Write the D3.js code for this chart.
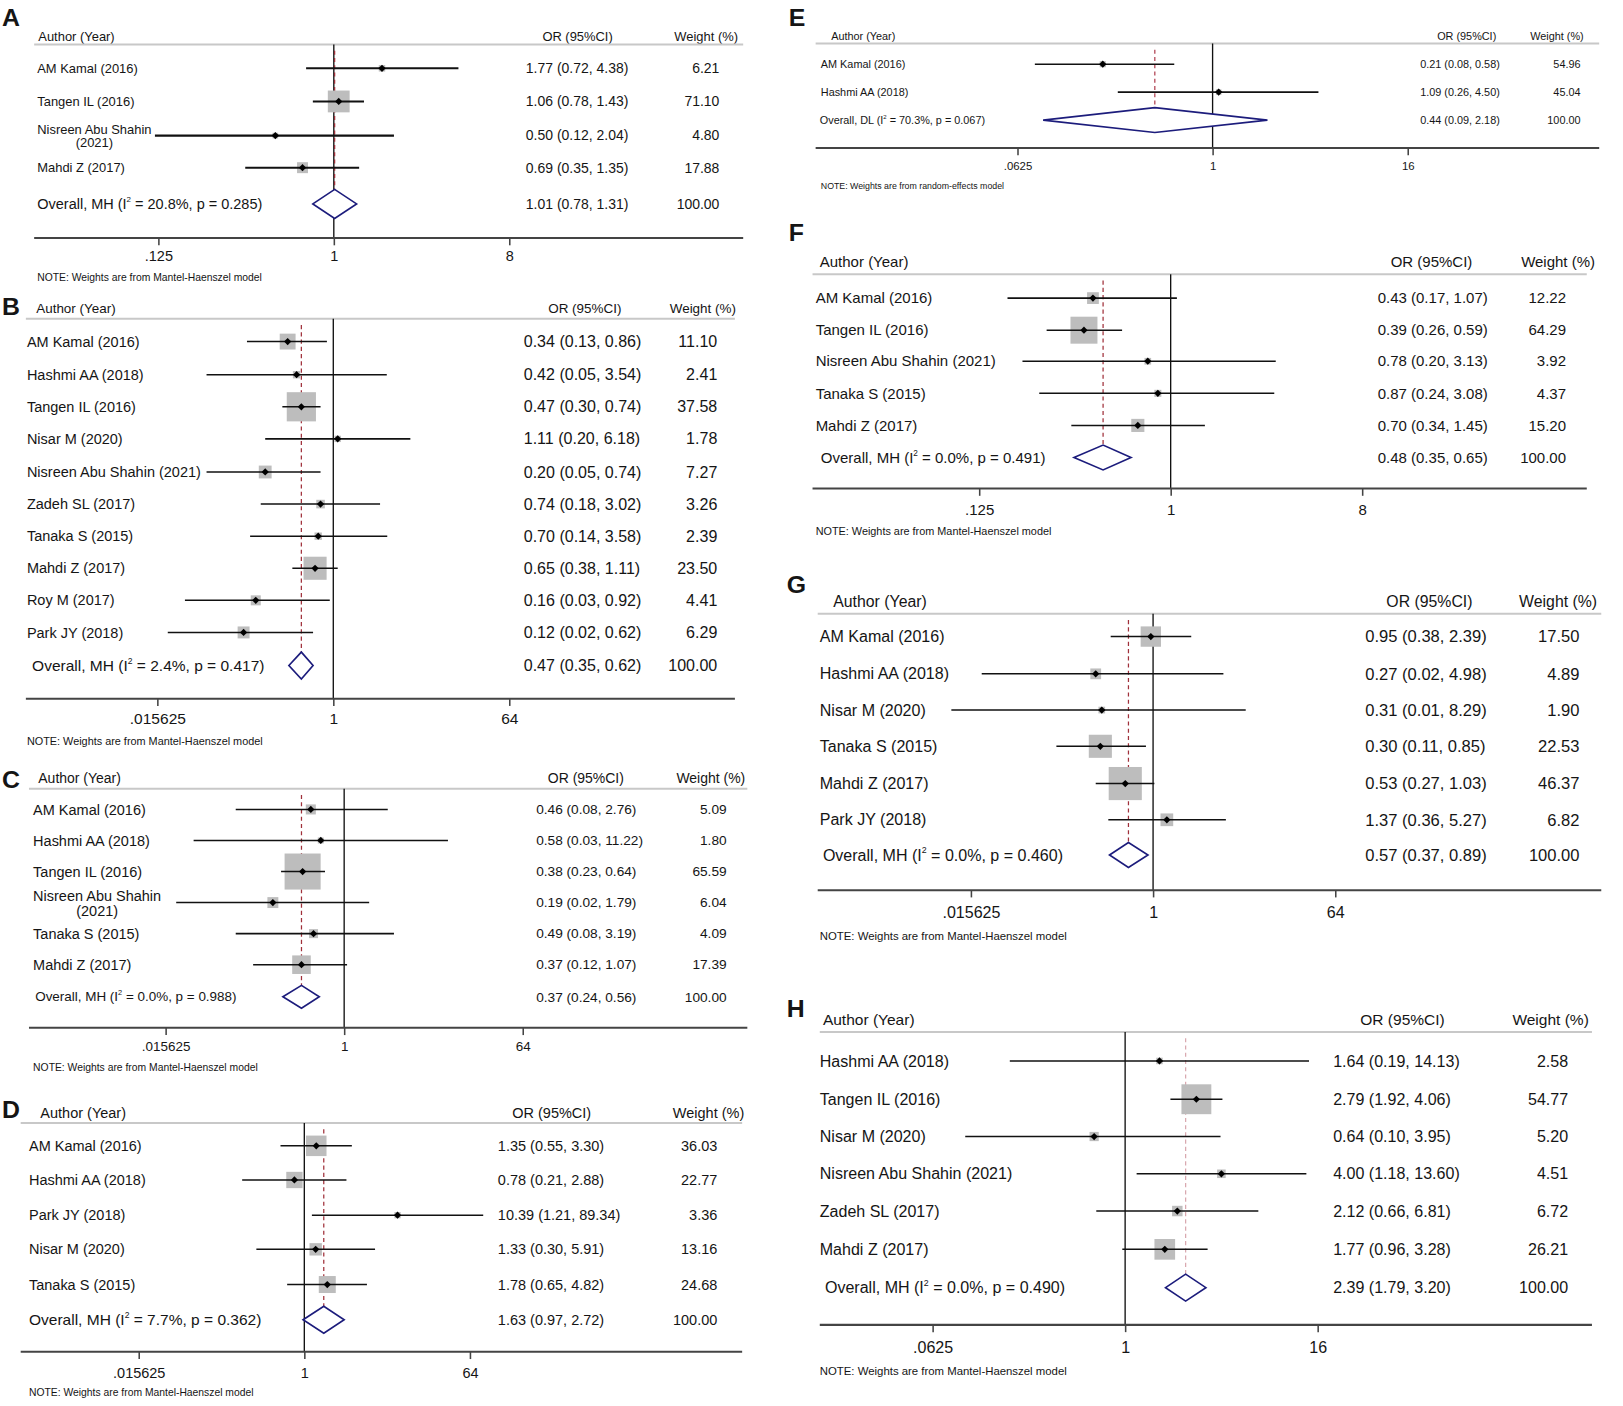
<!DOCTYPE html>
<html><head><meta charset="utf-8">
<script src="https://cdn.jsdelivr.net/npm/d3@7"></script>
<style>body{margin:0;background:#fff}svg{display:block}text{font-family:"Liberation Sans",Arial,sans-serif;fill:#151515}</style>
</head><body>
<script>
// ---------- DATA ----------
const A_studies = ["AM Kamal (2016)","Tangen IL (2016)","Nisreen Abu Shahin\n(2021)","Mahdi Z (2017)"];
const A_or = [1.77,1.06,0.50,0.69];
const A_lo = [0.72,0.78,0.12,0.35];
const A_hi = [4.38,1.43,2.04,1.35];
const A_weight = [6.21,71.10,4.80,17.88];
const A_overall = [1.01,0.78,1.31];
const A_het = ["MH","20.8%","0.285"];
const A_ticks = [0.125,1,8];
const A_tickLabels = [".125","1","8"];

const B_studies = ["AM Kamal (2016)","Hashmi AA (2018)","Tangen IL (2016)","Nisar M (2020)","Nisreen Abu Shahin (2021)","Zadeh SL (2017)","Tanaka S (2015)","Mahdi Z (2017)","Roy M (2017)","Park JY (2018)"];
const B_or = [0.34,0.42,0.47,1.11,0.20,0.74,0.70,0.65,0.16,0.12];
const B_lo = [0.13,0.05,0.30,0.20,0.05,0.18,0.14,0.38,0.03,0.02];
const B_hi = [0.86,3.54,0.74,6.18,0.74,3.02,3.58,1.11,0.92,0.62];
const B_weight = [11.10,2.41,37.58,1.78,7.27,3.26,2.39,23.50,4.41,6.29];
const B_overall = [0.47,0.35,0.62];
const B_het = ["MH","2.4%","0.417"];
const B_ticks = [0.015625,1,64];
const B_tickLabels = [".015625","1","64"];

const C_studies = ["AM Kamal (2016)","Hashmi AA (2018)","Tangen IL (2016)","Nisreen Abu Shahin\n(2021)","Tanaka S (2015)","Mahdi Z (2017)"];
const C_or = [0.46,0.58,0.38,0.19,0.49,0.37];
const C_lo = [0.08,0.03,0.23,0.02,0.08,0.12];
const C_hi = [2.76,11.22,0.64,1.79,3.19,1.07];
const C_weight = [5.09,1.80,65.59,6.04,4.09,17.39];
const C_overall = [0.37,0.24,0.56];
const C_het = ["MH","0.0%","0.988"];
const C_ticks = [0.015625,1,64];
const C_tickLabels = [".015625","1","64"];

const D_studies = ["AM Kamal (2016)","Hashmi AA (2018)","Park JY (2018)","Nisar M (2020)","Tanaka S (2015)"];
const D_or = [1.35,0.78,10.39,1.33,1.78];
const D_lo = [0.55,0.21,1.21,0.30,0.65];
const D_hi = [3.30,2.88,89.34,5.91,4.82];
const D_weight = [36.03,22.77,3.36,13.16,24.68];
const D_overall = [1.63,0.97,2.72];
const D_het = ["MH","7.7%","0.362"];
const D_ticks = [0.015625,1,64];
const D_tickLabels = [".015625","1","64"];

const E_studies = ["AM Kamal (2016)","Hashmi AA (2018)"];
const E_or = [0.21,1.09];
const E_lo = [0.08,0.26];
const E_hi = [0.58,4.50];
const E_weight = [54.96,45.04];
const E_overall = [0.44,0.09,2.18];
const E_het = ["DL","70.3%","0.067"];
const E_ticks = [0.0625,1,16];
const E_tickLabels = [".0625","1","16"];

const F_studies = ["AM Kamal (2016)","Tangen IL (2016)","Nisreen Abu Shahin (2021)","Tanaka S (2015)","Mahdi Z (2017)"];
const F_or = [0.43,0.39,0.78,0.87,0.70];
const F_lo = [0.17,0.26,0.20,0.24,0.34];
const F_hi = [1.07,0.59,3.13,3.08,1.45];
const F_weight = [12.22,64.29,3.92,4.37,15.20];
const F_overall = [0.48,0.35,0.65];
const F_het = ["MH","0.0%","0.491"];
const F_ticks = [0.125,1,8];
const F_tickLabels = [".125","1","8"];

const G_studies = ["AM Kamal (2016)","Hashmi AA (2018)","Nisar M (2020)","Tanaka S (2015)","Mahdi Z (2017)","Park JY (2018)"];
const G_or = [0.95,0.27,0.31,0.30,0.53,1.37];
const G_lo = [0.38,0.02,0.01,0.11,0.27,0.36];
const G_hi = [2.39,4.98,8.29,0.85,1.03,5.27];
const G_weight = [17.50,4.89,1.90,22.53,46.37,6.82];
const G_overall = [0.57,0.37,0.89];
const G_het = ["MH","0.0%","0.460"];
const G_ticks = [0.015625,1,64];
const G_tickLabels = [".015625","1","64"];

const H_studies = ["Hashmi AA (2018)","Tangen IL (2016)","Nisar M (2020)","Nisreen Abu Shahin (2021)","Zadeh SL (2017)","Mahdi Z (2017)"];
const H_or = [1.64,2.79,0.64,4.00,2.12,1.77];
const H_lo = [0.19,1.92,0.10,1.18,0.66,0.96];
const H_hi = [14.13,4.06,3.95,13.60,6.81,3.28];
const H_weight = [2.58,54.77,5.20,4.51,6.72,26.21];
const H_overall = [2.39,1.79,3.20];
const H_het = ["MH","0.0%","0.490"];
const H_ticks = [0.0625,1,16];
const H_tickLabels = [".0625","1","16"];

const NOTE_MH = "NOTE: Weights are from Mantel-Haenszel model";
const NOTE_RE = "NOTE: Weights are from random-effects model";

// ---------- LAYOUT (design units; scaled to page) ----------
const panels = [
 {id:"A", studies:A_studies, or:A_or, lo:A_lo, hi:A_hi, w:A_weight, ov:A_overall, het:A_het, ticks:A_ticks, tl:A_tickLabels, note:NOTE_MH,
  L:{lx:2, ly:25, hx:37, hy:40, hl:43, x0:33, x1:718, nx:36, ox:36, orX:508, orH:558, wR:695, wH:713, rows:[66,98,131,162], oy:197, ay:230, tly:253, ny:271,
     r0:153, r2:492, fs:13.5, nfs:12.5, hfs:12.5, tfs:14, ofs:14, notefs:10, k:2.5, dh:28, lw:2, dash:"#a0303a"}},
 {id:"B", studies:B_studies, or:B_or, lo:B_lo, hi:B_hi, w:B_weight, ov:B_overall, het:B_het, ticks:B_ticks, tl:B_tickLabels, note:NOTE_MH,
  L:{lx:2, ly:304, hx:35, hy:302, hl:308, x0:25, x1:710, nx:26, ox:31, orX:506, orH:565, wR:693, wH:711, rows:[330,362,393,424,456,487,518,549,580,611], oy:643, ay:675, tly:700, ny:720,
     r0:152, r2:492, fs:15.5, nfs:14, hfs:13, tfs:15, ofs:15, notefs:10.5, k:4.6, dh:26, lw:1.5, dash:"#a0303a"}},
 {id:"C", studies:C_studies, or:C_or, lo:C_lo, hi:C_hi, w:C_weight, ov:C_overall, het:C_het, ticks:C_ticks, tl:C_tickLabels, note:NOTE_MH,
  L:{lx:2, ly:761, hx:37, hy:756, hl:762, x0:28, x1:722, nx:32, ox:34, orX:518, orH:566, wR:702, wH:720, rows:[782,812,842,872,902,932], oy:963, ay:993, tly:1016, ny:1035,
     r0:160, r2:505, fs:13.2, nfs:14, hfs:13.5, tfs:13, ofs:13, notefs:10, k:4.3, dh:22, lw:1.5, dash:"#a0303a"}},
 {id:"D", studies:D_studies, or:D_or, lo:D_lo, hi:D_hi, w:D_weight, ov:D_overall, het:D_het, ticks:D_ticks, tl:D_tickLabels, note:NOTE_MH,
  L:{lx:2, ly:1080, hx:39, hy:1080, hl:1085, x0:20, x1:717, nx:28, ox:28, orX:481, orH:533, wR:693, wH:719, rows:[1107,1140,1174,1207,1241], oy:1275, ay:1306, tly:1332, ny:1349,
     r0:134, r2:454, fs:14, nfs:14, hfs:14, tfs:14, ofs:15, notefs:10, k:3.3, dh:26, lw:1.5, dash:"#a0303a"}},
 {id:"E", studies:E_studies, or:E_or, lo:E_lo, hi:E_hi, w:E_weight, ov:E_overall, het:E_het, ticks:E_ticks, tl:E_tickLabels, note:NOTE_RE,
  L:{lx:762, ly:25, hx:803, hy:39, hl:42, x0:788, x1:1545, nx:793, ox:792, orX:1372, orH:1417, wR:1527, wH:1530, rows:[62,89], oy:116, ay:143, tly:165, ny:183,
     r0:983, r2:1360, fs:10.5, nfs:10.5, hfs:10.5, tfs:11, ofs:10.5, notefs:8.5, k:0.8, dh:24, lw:1.5, dash:"#b04050"}},
 {id:"F", studies:F_studies, or:F_or, lo:F_lo, hi:F_hi, w:F_weight, ov:F_overall, het:F_het, ticks:F_ticks, tl:F_tickLabels, note:NOTE_MH,
  L:{lx:762, ly:233, hx:792, hy:258, hl:265, x0:785, x1:1533, nx:788, ox:793, orX:1331, orH:1383, wR:1513, wH:1541, rows:[288,319,349,380,411], oy:442, ay:472, tly:498, ny:517,
     r0:946, r2:1316, fs:14.5, nfs:14.5, hfs:14.5, tfs:14.5, ofs:14.5, notefs:10.5, k:3.25, dh:24, lw:1.5, dash:"#a0303a"}},
 {id:"G", studies:G_studies, or:G_or, lo:G_lo, hi:G_hi, w:G_weight, ov:G_overall, het:G_het, ticks:G_ticks, tl:G_tickLabels, note:NOTE_MH,
  L:{lx:760, ly:573, hx:805, hy:586, hl:593, x0:790, x1:1547, nx:792, ox:795, orX:1319, orH:1381, wR:1526, wH:1543, rows:[615,651,686,721,757,792], oy:826, ay:860, tly:888, ny:908,
     r0:938, r2:1290, fs:16, nfs:15.5, hfs:15.3, tfs:15.5, ofs:15.5, notefs:11, k:4.7, dh:24, lw:1.5, dash:"#a0303a"}},
 {id:"H", studies:H_studies, or:H_or, lo:H_lo, hi:H_hi, w:H_weight, ov:H_overall, het:H_het, ticks:H_ticks, tl:H_tickLabels, note:NOTE_MH,
  L:{lx:760, ly:983, hx:795, hy:990, hl:997, x0:792, x1:1538, nx:792, ox:797, orX:1288, orH:1355, wR:1515, wH:1535, rows:[1025,1062,1098,1134,1170,1207], oy:1244, ay:1280, tly:1308, ny:1328,
     r0:901, r2:1273, fs:15.5, nfs:15.5, hfs:15, tfs:15.5, ofs:15.5, notefs:11, k:3.9, dh:26, lw:1.5, dash:"#d9a9b0"}}
];

const W = 1623, Hgt = 1406, S = 1623/1568;
const svg = d3.select("body").append("svg").attr("width", W).attr("height", Hgt);
const root = svg.append("g").attr("transform", `scale(${S})`);
const fmt = d3.format(".2f");
const NAVY = "#1c1c7c";

panels.forEach(p => {
  const L = p.L;
  const g = root.append("g").attr("class", "panel-" + p.id);
  const x = d3.scaleLog().base(2).domain([p.ticks[0], p.ticks[2]]).range([L.r0, L.r2]);

  g.append("text").attr("x", L.lx).attr("y", L.ly).attr("font-size", 24).attr("font-weight", "bold").attr("fill", "#000").text(p.id);

  g.append("text").attr("x", L.hx).attr("y", L.hy).attr("font-size", L.hfs).text("Author (Year)");
  g.append("text").attr("x", L.orH).attr("y", L.hy).attr("font-size", L.hfs).attr("text-anchor", "middle").text("OR (95%CI)");
  g.append("text").attr("x", L.wH).attr("y", L.hy).attr("font-size", L.hfs).attr("text-anchor", "end").text("Weight (%)");
  g.append("line").attr("x1", L.x0).attr("x2", L.x1).attr("y1", L.hl).attr("y2", L.hl).attr("stroke", "#c8c8c8").attr("stroke-width", 2);

  g.append("line").attr("x1", x(1)).attr("x2", x(1)).attr("y1", L.hl).attr("y2", L.ay).attr("stroke", "#111").attr("stroke-width", 1.3);

  g.append("line").attr("x1", x(p.ov[0])).attr("x2", x(p.ov[0])).attr("y1", L.hl + 6).attr("y2", L.oy + L.dh / 2)
    .attr("stroke", L.dash).attr("stroke-width", 1.2).attr("stroke-dasharray", "4,3");

  p.studies.forEach((s, i) => {
    const y = L.rows[i];
    const side = L.k * Math.sqrt(p.w[i]);
    g.append("rect").attr("x", x(p.or[i]) - side / 2).attr("y", y - side / 2).attr("width", side).attr("height", side).attr("fill", "#bdbdbd");
    g.append("line").attr("x1", x(p.lo[i])).attr("x2", x(p.hi[i])).attr("y1", y).attr("y2", y).attr("stroke", "#111").attr("stroke-width", L.lw);
    const cx = x(p.or[i]), d = 3.5;
    g.append("path").attr("d", `M${cx-d},${y}L${cx},${y-d}L${cx+d},${y}L${cx},${y+d}Z`).attr("fill", "#000");

    const parts = s.split("\n");
    if (parts.length === 1) {
      g.append("text").attr("x", L.nx).attr("y", y + L.nfs * 0.35).attr("font-size", L.nfs).text(s);
    } else {
      const t1 = g.append("text").attr("x", L.nx).attr("y", y - L.nfs * 0.45 + L.nfs * 0.35).attr("font-size", L.nfs).text(parts[0]);
      const wdt = t1.node().getComputedTextLength();
      g.append("text").attr("x", L.nx + wdt / 2).attr("y", y + L.nfs * 0.55 + L.nfs * 0.35).attr("font-size", L.nfs).attr("text-anchor", "middle").text(parts[1]);
    }
    g.append("text").attr("x", L.orX).attr("y", y + L.fs * 0.35).attr("font-size", L.fs)
      .text(`${fmt(p.or[i])} (${fmt(p.lo[i])}, ${fmt(p.hi[i])})`);
    g.append("text").attr("x", L.wR).attr("y", y + L.fs * 0.35).attr("font-size", L.fs).attr("text-anchor", "end").text(fmt(p.w[i]));
  });

  const oy = L.oy, hh = L.dh / 2;
  g.append("path").attr("d", `M${x(p.ov[1])},${oy}L${x(p.ov[0])},${oy-hh}L${x(p.ov[2])},${oy}L${x(p.ov[0])},${oy+hh}Z`)
    .attr("fill", "#fff").attr("stroke", NAVY).attr("stroke-width", 1.6);
  const ot = g.append("text").attr("x", L.ox).attr("y", oy + L.ofs * 0.35).attr("font-size", L.ofs);
  ot.append("tspan").text(`Overall, ${p.het[0]} (I`);
  ot.append("tspan").attr("dy", -L.ofs * 0.45).attr("font-size", L.ofs * 0.55).text("2");
  ot.append("tspan").attr("dy", L.ofs * 0.45).text(` = ${p.het[1]}, p = ${p.het[2]})`);
  g.append("text").attr("x", L.orX).attr("y", oy + L.fs * 0.35).attr("font-size", L.fs)
    .text(`${fmt(p.ov[0])} (${fmt(p.ov[1])}, ${fmt(p.ov[2])})`);
  g.append("text").attr("x", L.wR).attr("y", oy + L.fs * 0.35).attr("font-size", L.fs).attr("text-anchor", "end").text("100.00");

  g.append("line").attr("x1", L.x0).attr("x2", L.x1).attr("y1", L.ay).attr("y2", L.ay).attr("stroke", "#444").attr("stroke-width", 2);
  const ax = g.append("g").attr("transform", `translate(0,${L.ay})`)
    .call(d3.axisBottom(x).tickValues(p.ticks).tickFormat((d, i) => p.tl[i]).tickSize(7).tickSizeOuter(0).tickPadding(L.tly - L.ay - 7 - L.tfs * 0.75));
  ax.select(".domain").remove();
  ax.selectAll(".tick line").attr("stroke", "#444").attr("stroke-width", 1.5);
  ax.selectAll(".tick text").attr("font-size", L.tfs).attr("fill", "#151515").attr("font-family", '"Liberation Sans",Arial,sans-serif');

  g.append("text").attr("x", L.nx).attr("y", L.ny).attr("font-size", L.notefs).attr("fill", "#333").text(p.note);
});
</script>
</body></html>
